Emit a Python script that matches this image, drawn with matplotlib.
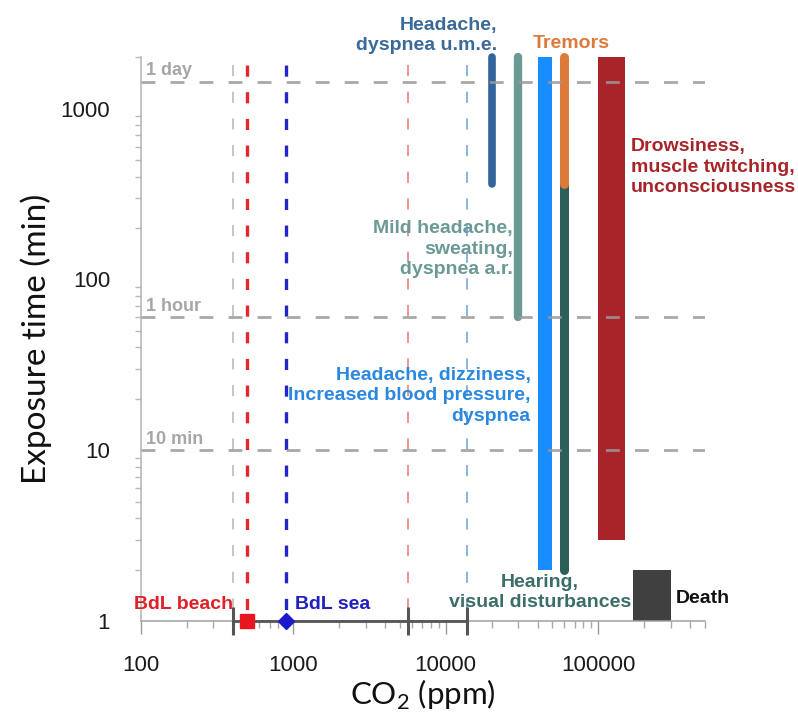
import numpy as np
import matplotlib
matplotlib.use("Agg")
import matplotlib.pyplot as plt
from matplotlib.ticker import LogLocator, NullFormatter

# ---------------- data ----------------
# reference CO2 levels (ppm) drawn as vertical dashed lines
ref_levels = [400, 500, 900, 5700, 13700]
ref_colors = ['#c4c4c4', '#e8242c', '#2424c8', '#e89494', '#8cb2e0']
ref_widths = [1.4, 2.4, 2.4, 1.4, 1.4]

# time markers (min)
time_marks = [1440, 60, 10]
time_labels = ['1 day', '1 hour', '10 min']

# symptom ranges drawn as rounded lines: CO2 (ppm), min time, max time (min)
line_co2 = [20000, 30000, 60000, 60000]
line_tmin = [360, 60, 2, 360]
line_tmax = [2000, 2000, 360, 2000]
line_colors = ['#34659a', '#6b9995', '#2d5f5a', '#dc7a3c']
line_widths = [5.5, 6.0, 6.5, 6.5]

# symptom ranges drawn as bars: CO2 low, CO2 high, min time, max time
bar_co2_lo = [40000, 100000, 170000]
bar_co2_hi = [50000, 150000, 300000]
bar_tmin = [2, 3, 1]
bar_tmax = [2000, 2000, 2]
bar_colors = ['#198cff', '#a82428', '#404040']

# measured range at BdL
range_caps = [400, 5700, 13700]
bdl_beach = 500
bdl_sea = 900

xticks = [100, 1000, 10000, 100000]
xtick_labels = ['100', '1000', '10000', '100000']
yticks = [1, 10, 100, 1000]
ytick_labels = ['1', '10', '100', '1000']

# ---------------- figure ----------------
plt.rcParams['font.family'] = ['Liberation Sans', 'DejaVu Sans']
plt.rcParams['lines.scale_dashes'] = False
plt.rcParams['mathtext.fontset'] = 'custom'
plt.rcParams['mathtext.rm'] = 'Lato'

fig = plt.figure(figsize=(7.98, 7.18), dpi=100)
ax = fig.add_axes([0.1763, 0.1351, 0.7069, 0.7852])
ax.set_xscale('log')
ax.set_yscale('log')
ax.set_xlim(100, 5e5)
ax.set_ylim(1, 2000)

for s in ['top', 'right']:
    ax.spines[s].set_visible(False)
ax.spines['left'].set_color('#b4b4b4')
ax.spines['bottom'].set_color('#a0a0a0')
ax.spines['left'].set_linewidth(1.1)
ax.spines['bottom'].set_linewidth(1.1)

# vertical dashed reference lines
for x, c, w in zip(ref_levels, ref_colors, ref_widths):
    ax.plot([x, x], [2000, 1], color=c, lw=w, ls=(13.4, (8, 11.2)), zorder=1)

# bars
for lo, hi, t0, t1, c in zip(bar_co2_lo, bar_co2_hi, bar_tmin, bar_tmax, bar_colors):
    ax.bar(lo, t1 - t0, width=hi - lo, bottom=t0, align='edge', color=c,
           zorder=2, clip_on=False)

# rounded lines
for x, t0, t1, c, w in zip(line_co2, line_tmin, line_tmax, line_colors, line_widths):
    ax.plot([x, x], [t0, t1], color=c, lw=w, solid_capstyle='round',
            clip_on=False, zorder=3)

# horizontal time lines
for t, lab in zip(time_marks, time_labels):
    ax.plot([100, 5e5], [t, t], color='#999999', lw=2, alpha=0.85,
            ls=(0, (10, 10.9)), zorder=4)
    ax.annotate(lab, xy=(108.5, t), xytext=(0, 4.5), textcoords='offset points',
                ha='left', va='baseline', color='#a6a6a6', fontsize=13,
                fontweight='bold', zorder=5)

# measured range line at BdL
ax.plot([range_caps[0], range_caps[-1]], [1, 1], color='#555555', lw=2,
        clip_on=False, zorder=4)
ax.plot(range_caps, [1] * len(range_caps), ls='none', marker='|', ms=20, mew=2.2,
        color='#555555', clip_on=False, zorder=4)
ax.plot([bdl_beach], [1], ls='none', marker='s', ms=9.5, color='#e8161e',
        clip_on=False, zorder=5)
ax.plot([bdl_sea], [1], ls='none', marker='D', ms=8.5, color='#1a1acc',
        clip_on=False, zorder=5)

# annotations (va='baseline' -> baseline of the last line)
tk = dict(fontsize=14, fontweight='bold', va='baseline', linespacing=1.26, zorder=6)
ax.text(21700, 2203, 'Headache,\ndyspnea u.m.e.', ha='right', color='#3a6a9a', **tk)
ax.text(66800, 2279, 'Tremors', ha='center', color='#dc7a3c', **tk)
ax.text(164000, 325, 'Drowsiness,\nmuscle twitching,\nunconsciousness', ha='left',
        color='#a82428', **tk)
ax.text(27500, 107.6, 'Mild headache,\nsweating,\ndyspnea a.r.', ha='right',
        color='#6b9995', **tk)
ax.text(36100, 14.9, 'Headache, dizziness,\nIncreased blood pressure,\ndyspnea',
        ha='right', color='#2a88e0', **tk)
ax.text(41500, 1.203, 'Hearing,\nvisual disturbances', ha='center',
        color='#3a6e68', **tk)
ax.text(324000, 1.275, 'Death', ha='left', color='#111111', **tk)
ax.text(405, 1.171, 'BdL beach', ha='right', color='#e02028', **tk)
ax.text(1024, 1.171, 'BdL sea', ha='left', color='#2020c0', **tk)

# ticks
ax.set_xticks(xticks, xtick_labels)
ax.set_yticks(yticks, ytick_labels)
ax.xaxis.set_minor_locator(LogLocator(base=10, subs=np.arange(2, 10), numticks=100))
ax.yaxis.set_minor_locator(LogLocator(base=10, subs=np.arange(2, 10), numticks=100))
ax.xaxis.set_minor_formatter(NullFormatter())
ax.yaxis.set_minor_formatter(NullFormatter())
ax.tick_params(axis='x', which='major', length=9.5, width=1, color='#999999',
               pad=15, labelsize=16, labelcolor='#1a1a1a')
ax.tick_params(axis='x', which='minor', length=5, width=1, color='#aaaaaa')
ax.tick_params(axis='y', which='major', length=0, pad=22, labelsize=16,
               labelcolor='#1a1a1a')
ax.tick_params(axis='y', which='minor', length=4, width=1, color='#bbbbbb')

ax.set_ylabel('Exposure time (min)', family=['Lato', 'DejaVu Sans'], fontsize=24,
              color='#111111')
ax.set_xlabel('CO$_{\\mathregular{2}}$ (ppm)', family=['Lato', 'DejaVu Sans'],
              fontsize=22.5, color='#111111', va='baseline')
ax.yaxis.set_label_coords(-0.157, 0.5)
ax.xaxis.set_label_coords(0.5, -0.149)

fig.savefig('out.png', dpi=100)
